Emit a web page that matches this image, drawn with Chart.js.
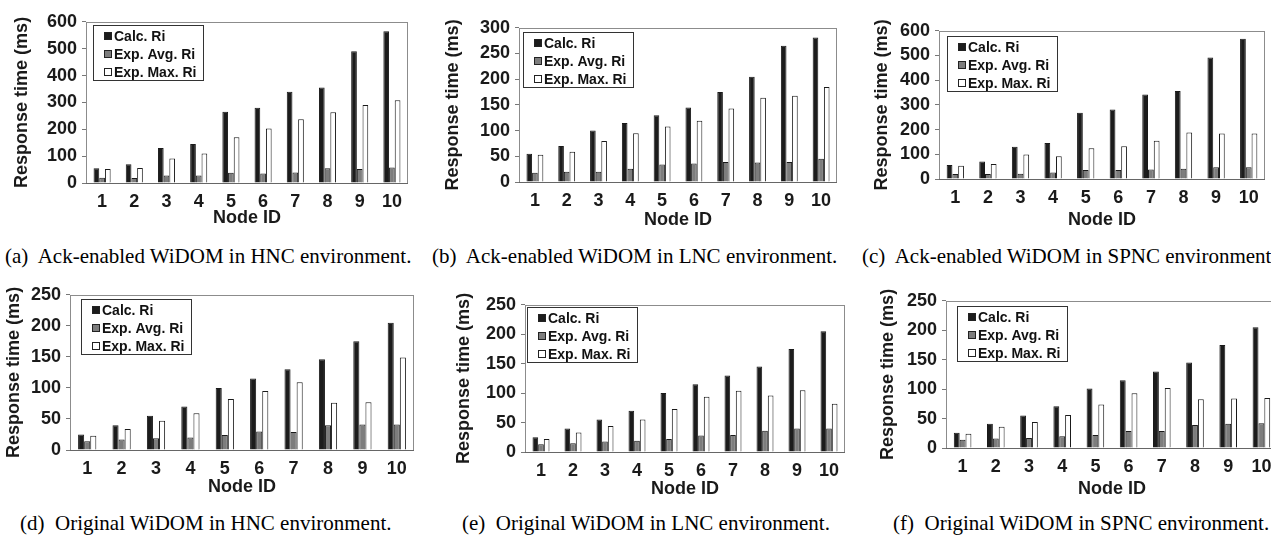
<!DOCTYPE html>
<html>
<head>
<meta charset="utf-8">
<script src="https://cdn.jsdelivr.net/npm/chart.js@4"></script>
<style>
  body { margin: 0; background: #fff; }
  #fig { position: relative; width: 1271px; height: 535px; overflow: hidden; background: #fff; }
  #fig canvas { position: absolute; }
  .cap { position: absolute; font-family: "Liberation Serif", "Times New Roman", serif; font-size: 21px; line-height: 24px; white-space: pre; color: #000; }
</style>
</head>
<body>
<div id="fig"></div>
<script>
// categories and legend names
const nodeIds = ['1', '2', '3', '4', '5', '6', '7', '8', '9', '10'];
const seriesNames = ['Calc. Ri', 'Exp. Avg. Ri', 'Exp. Max. Ri'];

// (a) Ack-enabled WiDOM, HNC
const ackHncCalc = [55, 70, 130, 145, 265, 280, 340, 355, 490, 565];
const ackHncAvg  = [20, 19, 28, 28, 38, 35, 39, 55, 52, 58];
const ackHncMax  = [52, 56, 91, 110, 170, 203, 237, 263, 290, 308];
// (b) Ack-enabled WiDOM, LNC
const ackLncCalc = [55, 70, 100, 115, 130, 145, 175, 205, 265, 281];
const ackLncAvg  = [18, 20, 20, 26, 34, 36, 39, 38, 39, 45];
const ackLncMax  = [53, 59, 80, 95, 108, 119, 143, 164, 168, 185];
// (c) Ack-enabled WiDOM, SPNC
const ackSpncCalc = [57, 71, 131, 146, 268, 281, 342, 356, 492, 568];
const ackSpncAvg  = [20, 20, 21, 26, 36, 36, 38, 42, 48, 48];
const ackSpncMax  = [54, 61, 99, 92, 124, 133, 155, 188, 184, 184];
// (d) Original WiDOM, HNC
const origHncCalc = [25, 40, 55, 70, 100, 115, 130, 146, 175, 205];
const origHncAvg  = [14, 17, 19, 20, 24, 30, 29, 40, 41, 41];
const origHncMax  = [23, 34, 47, 59, 82, 95, 109, 76, 77, 149];
// (e) Original WiDOM, LNC
const origLncCalc = [25, 40, 55, 70, 100, 115, 130, 145, 175, 205];
const origLncAvg  = [13, 15, 18, 19, 22, 28, 29, 36, 40, 40];
const origLncMax  = [22, 33, 44, 55, 73, 94, 104, 96, 105, 82];
// (f) Original WiDOM, SPNC
const origSpncCalc = [26, 41, 55, 71, 101, 115, 130, 145, 175, 205];
const origSpncAvg  = [14, 16, 17, 20, 22, 29, 29, 39, 41, 42];
const origSpncMax  = [24, 36, 44, 56, 74, 93, 102, 83, 84, 85];

// y axis ranges [min, max, step]
const ackHncTicks = [0, 600, 100];
const ackLncTicks = [0, 300, 50];
const ackSpncTicks = [0, 600, 100];
const origTicks = [0, 250, 50];

const captions = [
  '(a)  Ack-enabled WiDOM in HNC environment.',
  '(b)  Ack-enabled WiDOM in LNC environment.',
  '(c)  Ack-enabled WiDOM in SPNC environment.',
  '(d)  Original WiDOM in HNC environment.',
  '(e)  Original WiDOM in LNC environment.',
  '(f)  Original WiDOM in SPNC environment.'
];

const barFill = ['#1c1c1c', '#7d7d7d', '#ffffff'];
const sans = '"Liberation Sans", Arial, sans-serif';

// layout of each panel: plot box, y title centre, Node ID centre, legend offset, caption spot
const panels = [
  { series: [ackHncCalc, ackHncAvg, ackHncMax], ticks: ackHncTicks, plot: [86, 18, 408, 183], titleX: 22, nodeY: 218, leg: [7, 3], cap: [5, 256] },
  { series: [ackLncCalc, ackLncAvg, ackLncMax], ticks: ackLncTicks, plot: [519, 24, 837, 182], titleX: 453, nodeY: 220, leg: [4, 4], cap: [432, 256] },
  { series: [ackSpncCalc, ackSpncAvg, ackSpncMax], ticks: ackSpncTicks, plot: [939, 27, 1265, 179], titleX: 882, nodeY: 220, leg: [8, 5], cap: [862, 256] },
  { series: [origHncCalc, origHncAvg, origHncMax], ticks: origTicks, plot: [70, 291, 414, 450], titleX: 14, nodeY: 487, leg: [11, 4], cap: [20, 523] },
  { series: [origLncCalc, origLncAvg, origLncMax], ticks: origTicks, plot: [525, 301, 845, 452], titleX: 464, nodeY: 489, leg: [2, 2], cap: [462, 523] },
  { series: [origSpncCalc, origSpncAvg, origSpncMax], ticks: origTicks, plot: [946, 297, 1278, 448], titleX: 888, nodeY: 489, leg: [11, 5], cap: [893, 523] }
];

// grey frame round the plot area
const framePlugin = {
  id: 'frame',
  afterDatasetsDraw(chart) {
    const { ctx, chartArea: a } = chart;
    ctx.save();
    ctx.lineWidth = 1;
    ctx.strokeStyle = '#8c8c8c';
    ctx.strokeRect(Math.round(a.left) + 0.5, Math.round(a.top) + 0.5, Math.round(a.right - a.left) - 1, Math.round(a.bottom - a.top));
    ctx.strokeStyle = '#666';
    ctx.beginPath();
    ctx.moveTo(a.left, Math.round(a.bottom) + 0.5);
    ctx.lineTo(a.right, Math.round(a.bottom) + 0.5);
    ctx.stroke();
    ctx.restore();
  }
};

// boxed legend inside the plot, upper left
const boxLegend = {
  id: 'boxLegend',
  afterDraw(chart, args, opts) {
    const { ctx, chartArea: a } = chart;
    const x = Math.round(a.left + opts.dx), y = Math.round(a.top + opts.dy);
    const w = 110, h = 55;
    ctx.save();
    ctx.fillStyle = '#fff';
    ctx.fillRect(x, y, w, h);
    ctx.strokeStyle = '#333';
    ctx.lineWidth = 1;
    ctx.strokeRect(x + 0.5, y + 0.5, w, h);
    ctx.font = 'bold 14px ' + sans;
    ctx.textBaseline = 'middle';
    chart.data.datasets.forEach((ds, i) => {
      const cy = y + 11 + i * 18;
      ctx.fillStyle = ds.backgroundColor;
      ctx.fillRect(x + 11, cy - 4, 8, 8);
      ctx.strokeStyle = '#222';
      ctx.strokeRect(x + 11.5, cy - 3.5, 7, 7);
      ctx.fillStyle = '#111';
      ctx.fillText(ds.label, x + 21, cy + 1);
    });
    ctx.restore();
  }
};

const fig = document.getElementById('fig');

panels.forEach((p, k) => {
  const [pl, pt, pr, pb] = p.plot;
  const cx = p.titleX - 15;
  const cy = pt - 12;
  const cw = pr + 4 - cx;
  const cb = Math.round(p.nodeY + 14.5);
  const ch = cb - cy;
  const yW = pl - cx;
  const xH = cb - pb;

  const canvas = document.createElement('canvas');
  canvas.width = cw;
  canvas.height = ch;
  canvas.style.left = cx + 'px';
  canvas.style.top = cy + 'px';
  canvas.style.width = cw + 'px';
  canvas.style.height = ch + 'px';
  fig.appendChild(canvas);

  new Chart(canvas.getContext('2d'), {
    type: 'bar',
    data: {
      labels: nodeIds,
      datasets: p.series.map((vals, i) => ({
        label: seriesNames[i],
        data: vals,
        backgroundColor: barFill[i],
        borderColor: '#1a1a1a',
        borderWidth: 1,
        categoryPercentage: 0.53,
        barPercentage: 1.0
      }))
    },
    options: {
      responsive: false,
      animation: false,
      devicePixelRatio: 1,
      layout: { padding: { top: 12, right: 4, bottom: 0, left: 0 } },
      plugins: {
        legend: { display: false },
        tooltip: { enabled: false },
        boxLegend: { dx: p.leg[0], dy: p.leg[1] }
      },
      scales: {
        x: {
          grid: { display: false, drawTicks: false },
          border: { display: false },
          ticks: { color: '#1a1a1a', padding: 8, font: { family: sans, size: 18, weight: 'bold' } },
          title: { display: true, text: 'Node ID', color: '#1a1a1a', padding: { top: 0, bottom: 4 }, font: { family: sans, size: 18, weight: 'bold' } },
          afterFit: (s) => { s.height = xH; }
        },
        y: {
          min: p.ticks[0],
          max: p.ticks[1],
          ticks: { stepSize: p.ticks[2], color: '#1a1a1a', padding: 5, font: { family: sans, size: 18, weight: 'bold' } },
          grid: { display: true, drawOnChartArea: false, drawTicks: true, tickLength: 4, color: '#777' },
          border: { display: false },
          title: { display: true, text: 'Response time (ms)', color: '#1a1a1a', padding: 4, font: { family: sans, size: 18, weight: 'bold' } },
          afterFit: (s) => { s.width = yW; }
        }
      }
    },
    plugins: [framePlugin, boxLegend]
  });

  const cap = document.createElement('div');
  cap.className = 'cap';
  cap.textContent = captions[k];
  cap.style.left = p.cap[0] + 'px';
  cap.style.top = (p.cap[1] - 12) + 'px';
  fig.appendChild(cap);
});
</script>
</body>
</html>
